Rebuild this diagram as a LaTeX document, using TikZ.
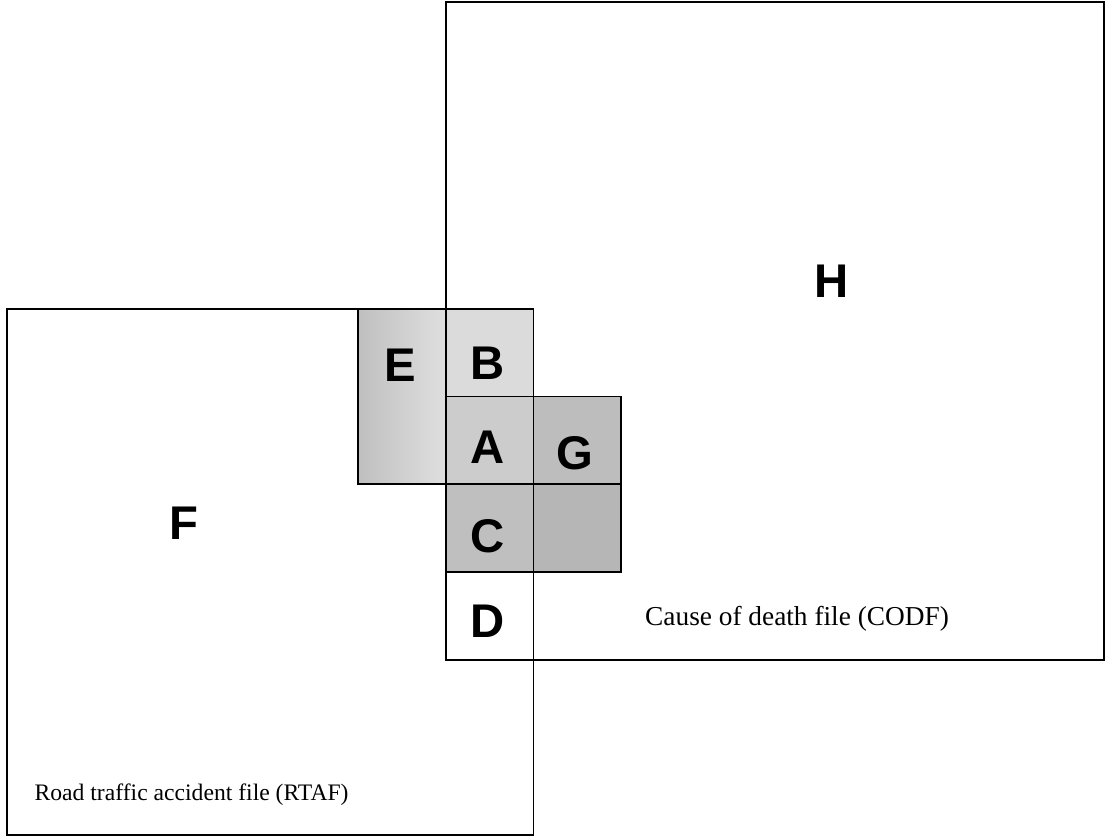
\documentclass[tikz,border=0pt]{standalone}
\usepackage{fontspec}
\setmainfont{Liberation Serif}
\setsansfont{Liberation Sans}
\begin{document}
\begin{tikzpicture}[x=1.5cm, y=1.5cm,
    file/.style={rectangle, draw=black, line width=0.9pt, inner sep=0pt, anchor=south west},
    cell/.style={rectangle, draw=black, line width=0.9pt, minimum size=1.5cm, inner sep=0pt, anchor=south west},
    letter/.style={font=\fontsize{23}{26}\selectfont\sffamily\bfseries, inner sep=0pt},
    caption/.style={anchor=base west, inner sep=0pt}
]
\useasboundingbox (-0.07,-0.02) rectangle (12.56,9.53);

% Files
\node[file, minimum width=9cm, minimum height=9cm]       (rtaf) at (0,0) {};
\node[file, minimum width=11.25cm, minimum height=11.25cm] (codf) at (5,2) {};

% Overlap cells
\node[cell, minimum height=3cm, left color=gray!50, right color=gray!25] (cellE) at (4,4) {};
\node[cell, fill=gray!28] (cellB) at (5,5) {};
\node[cell, fill=gray!40] (cellA) at (5,4) {};
\node[cell, fill=gray!52] (cellG) at (6,4) {};
\node[cell, fill=gray!50] (cellC) at (5,3) {};
\node[cell, fill=gray!57] (cellX) at (6,3) {};
\node[cell, fill=white]   (cellD) at (5,2) {};

% Letters
\node[letter] (lblE) at (4.49,5.37) {E};
\node[letter] (lblB) at (5.49,5.39) {B};
\node[letter] (lblA) at (5.49,4.43) {A};
\node[letter] (lblG) at (6.48,4.36) {G};
\node[letter] (lblC) at (5.49,3.42) {C};
\node[letter] (lblD) at (5.49,2.45) {D};
\node[letter] (lblF) at (2.03,3.57) {F};
\node[letter] (lblH) at (9.41,6.32) {H};

% Captions
\node[caption, font=\fontsize{11.5}{14}\selectfont] (capR) at (0.32,0.40) {Road traffic accident file (RTAF)};
\node[caption, font=\fontsize{13.3}{16}\selectfont] (capC) at (7.28,2.40) {Cause of death file (CODF)};

\end{tikzpicture}
\end{document}
